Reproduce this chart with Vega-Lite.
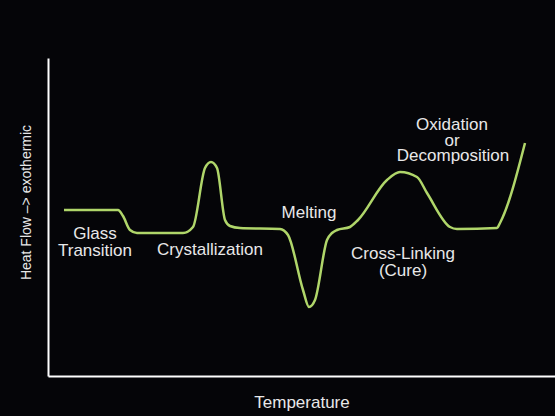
{
  "$schema": "https://vega.github.io/schema/vega-lite/v6.json",
  "autosize": "none",
  "width": 507,
  "height": 318,
  "padding": {"left": 48, "top": 58, "right": 0, "bottom": 40},
  "background": "#050508",
  "config": {
    "view": {"stroke": null},
    "font": "Liberation Sans, Arial, sans-serif"
  },
  "datasets": {
    "curve": [
      {"t": 16, "hf": 166}, {"t": 70, "hf": 166}, {"t": 75, "hf": 160}, {"t": 82, "hf": 146},
      {"t": 89, "hf": 143}, {"t": 135, "hf": 143}, {"t": 145, "hf": 149}, {"t": 157, "hf": 208},
      {"t": 163, "hf": 214}, {"t": 169, "hf": 208}, {"t": 177, "hf": 156}, {"t": 182, "hf": 150},
      {"t": 192, "hf": 148}, {"t": 232, "hf": 147}, {"t": 240, "hf": 141}, {"t": 255, "hf": 86},
      {"t": 261, "hf": 69}, {"t": 267, "hf": 76}, {"t": 279, "hf": 136}, {"t": 284, "hf": 143},
      {"t": 289, "hf": 146}, {"t": 302, "hf": 149}, {"t": 310, "hf": 156}, {"t": 339, "hf": 196},
      {"t": 352, "hf": 204}, {"t": 369, "hf": 199}, {"t": 379, "hf": 183}, {"t": 402, "hf": 149},
      {"t": 409, "hf": 147}, {"t": 449, "hf": 148}, {"t": 452, "hf": 153}, {"t": 477, "hf": 233}
    ],
    "labels": [
      {"t": 47, "hf": 142, "label": "Glass"},
      {"t": 47, "hf": 125, "label": "Transition"},
      {"t": 162, "hf": 126, "label": "Crystallization"},
      {"t": 261, "hf": 163, "label": "Melting"},
      {"t": 355, "hf": 122, "label": "Cross-Linking"},
      {"t": 355, "hf": 105, "label": "(Cure)"},
      {"t": 404, "hf": 251, "label": "Oxidation"},
      {"t": 404, "hf": 235, "label": "or"},
      {"t": 405, "hf": 220, "label": "Decomposition"}
    ]
  },
  "layer": [
    {
      "data": {"name": "curve"},
      "mark": {"type": "line", "interpolate": "monotone", "color": "#b0d66a", "strokeWidth": 2.5},
      "encoding": {
        "x": {
          "field": "t", "type": "quantitative",
          "scale": {"domain": [0, 507], "nice": false, "zero": false},
          "axis": {
            "title": "Temperature", "labels": false, "ticks": false, "grid": false,
            "domainColor": "#ffffff", "domainWidth": 2,
            "titleColor": "#e8e8e8", "titleFontSize": 17, "titleFontWeight": "normal",
            "titleFont": "Liberation Sans, Arial, sans-serif",
            "titleY": 26, "titleBaseline": "middle"
          }
        },
        "y": {
          "field": "hf", "type": "quantitative",
          "scale": {"domain": [0, 318], "nice": false, "zero": false},
          "axis": {
            "title": "Heat Flow –> exothermic", "labels": false, "ticks": false, "grid": false,
            "domainColor": "#ffffff", "domainWidth": 2,
            "titleColor": "#e8e8e8", "titleFontSize": 14, "titleFontWeight": "normal",
            "titleFont": "Liberation Sans, Arial, sans-serif",
            "titleX": -22, "titleY": 144, "titleBaseline": "middle", "titleAlign": "center", "titleAngle": -90
          }
        }
      }
    },
    {
      "data": {"name": "labels"},
      "mark": {"type": "text", "color": "#e8e8e8", "fontSize": 17, "align": "center", "baseline": "middle", "font": "Liberation Sans, Arial, sans-serif"},
      "encoding": {
        "x": {"field": "t", "type": "quantitative"},
        "y": {"field": "hf", "type": "quantitative"},
        "text": {"field": "label", "type": "nominal"}
      }
    }
  ]
}
